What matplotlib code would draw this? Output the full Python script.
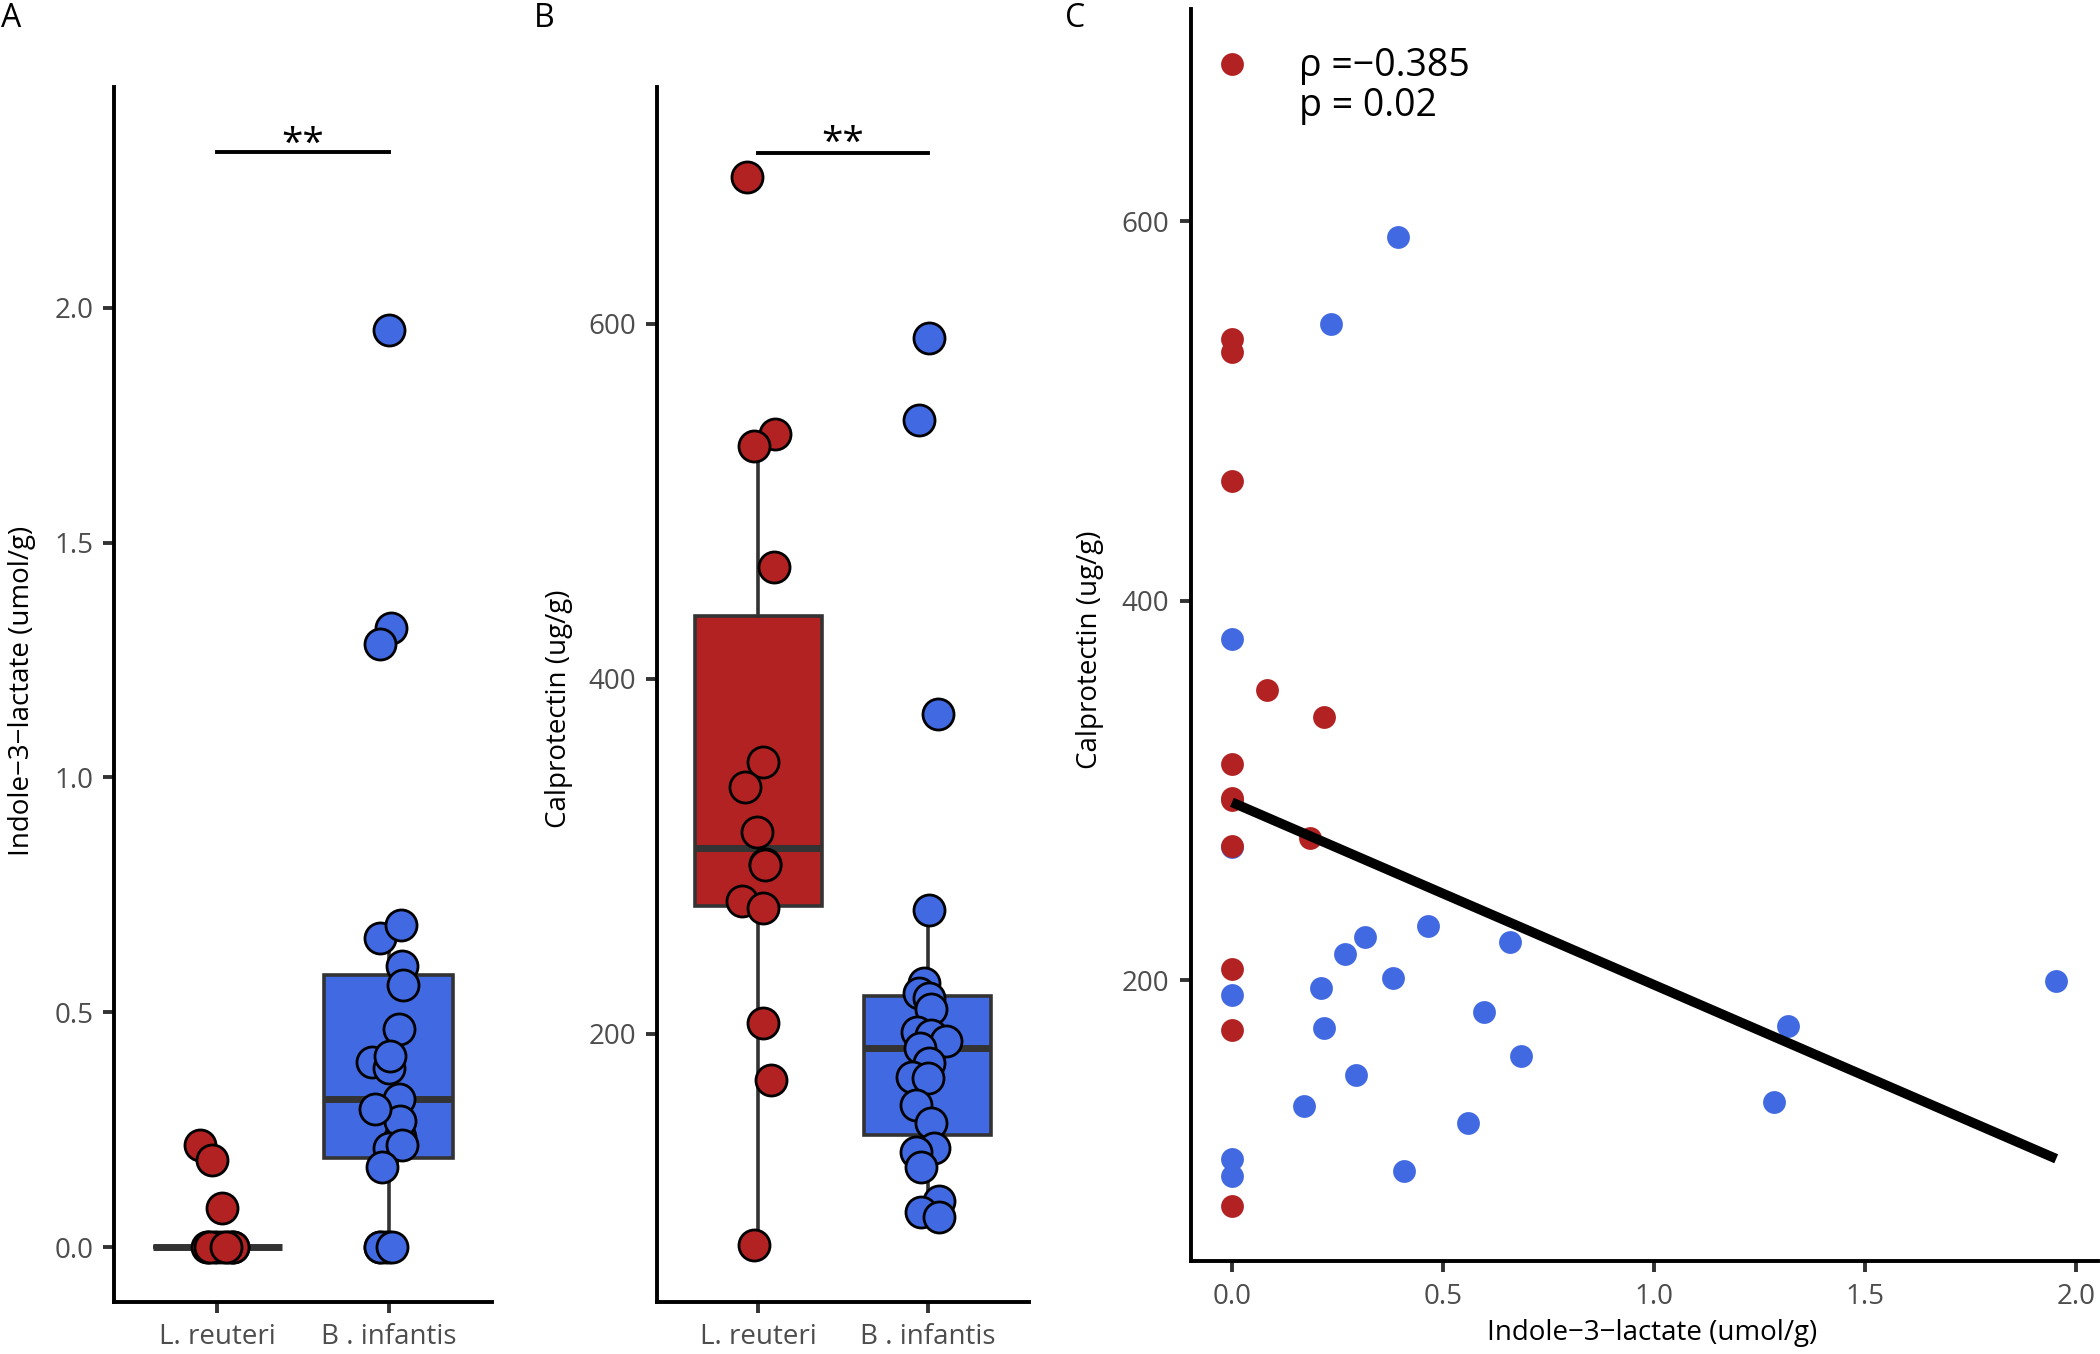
import matplotlib
matplotlib.use("Agg")
import matplotlib.pyplot as plt
import numpy as np

plt.rcParams["font.family"] = ["Open Sans", "DejaVu Sans"]

groups = ["L. reuteri", "B . infantis"]
red = "#B22222"
blue = "#4169E1"

# one entry per sample: indole-3-lactate (umol/g) and calprotectin (ug/g)
il_reuteri = [0, 0, 0, 0, 0.084, 0.218, 0, 0, 0, 0.186, 0, 0, 0, 0]
cal_reuteri = [683, 538, 531, 463, 353, 339, 314, 296, 295, 275, 271, 206, 174, 81]

il_infantis = [0.393, 0.234, 0, 0, 0.464, 0.315, 0.658, 0.268, 0.381, 1.953,
               0.210, 0, 0.598, 1.318, 0.218, 0.685, 0.295, 1.284, 0.171,
               0.559, 0, 0.407, 0]
cal_infantis = [592, 546, 380, 270, 228.5, 223, 220, 214, 201, 199.5,
                196, 192, 183.5, 176, 175, 160, 150, 136, 133.5,
                125, 106, 99.5, 97]

# horizontal jitter of the dots (category units)
jit_a_reuteri = [-0.05, 0.09, -0.02, 0.06, 0.026, -0.098, 0.0, 0.08, -0.06,
                 -0.03, 0.03, -0.04, 0.09, 0.05]
jit_a_infantis = [-0.1, 0.065, -0.05, -0.02, 0.06, 0.056, -0.054, 0.065, 0.0,
                  0.0, 0.0, 0.0, 0.075, 0.01, 0.075, 0.07, -0.083, -0.054,
                  -0.04, 0.08, -0.05, 0.006, 0.02]
jit_b_reuteri = [-0.07, 0.096, -0.028, 0.09, 0.025, -0.077, -0.01, 0.037,
                 0.037, -0.1, 0.025, 0.025, 0.073, -0.028]
jit_b_infantis = [0.006, -0.05, 0.06, 0.006, -0.02, -0.05, 0.01, 0.02, -0.06,
                  0.02, 0.11, -0.045, 0.006, -0.09, 0.0, -0.07, 0.02, 0.04,
                  -0.07, -0.04, 0.07, -0.04, 0.07]

rho_text = "ρ =−0.385"
p_text = "p = 0.02"
sig_text = "**"

W, H = 2100, 1354


def px_axes(left, top, right, bottom):
    return [left / W, 1 - bottom / H, (right - left) / W, (bottom - top) / H]


def style(ax, pad=6):
    ax.spines["top"].set_visible(False)
    ax.spines["right"].set_visible(False)
    for s in ["left", "bottom"]:
        ax.spines[s].set_linewidth(2.8)
        ax.spines[s].set_color("black")
    ax.tick_params(length=8, width=2.8, color="#333333", labelcolor="#4D4D4D",
                   labelsize=20, pad=pad)


def box_panel(ax, data_r, data_i, jit_r, jit_i):
    bp = ax.boxplot([data_r, data_i], positions=[1, 2], widths=0.75,
                    patch_artist=True, showfliers=False, whis=1.5,
                    medianprops=dict(color="#333333", linewidth=5,
                                     solid_capstyle="butt"),
                    whiskerprops=dict(color="#333333", linewidth=2.6),
                    capprops=dict(linewidth=0),
                    boxprops=dict(edgecolor="#333333", linewidth=2.6))
    for patch, c in zip(bp["boxes"], [red, blue]):
        patch.set_facecolor(c)
    ax.scatter(1 + np.array(jit_r), data_r, s=500, color=red,
               edgecolors="black", linewidths=2, zorder=3)
    ax.scatter(2 + np.array(jit_i), data_i, s=500, color=blue,
               edgecolors="black", linewidths=2, zorder=3)
    ax.set_xlim(0.4, 2.6)
    ax.set_xticks([1, 2])
    ax.set_xticklabels(groups)


def main():
    fig = plt.figure(figsize=(21, 13.54), dpi=100)

    # A
    ax = fig.add_axes(px_axes(114, 87, 492, 1302))
    box_panel(ax, il_reuteri, il_infantis, jit_a_reuteri, jit_a_infantis)
    ax.set_ylim(-0.117, 2.47)
    ax.set_yticks([0, 0.5, 1.0, 1.5, 2.0])
    ax.set_yticklabels(["0.0", "0.5", "1.0", "1.5", "2.0"])
    ax.plot([1, 2], [2.332, 2.332], color="black", lw=2.8, clip_on=False)
    ax.text(1.5, 2.306, sig_text, ha="center", va="bottom", fontsize=28)
    style(ax, pad=7)

    # B
    ax = fig.add_axes(px_axes(657, 87, 1029, 1302))
    box_panel(ax, cal_reuteri, cal_infantis, jit_b_reuteri, jit_b_infantis)
    ax.set_ylim(49, 733.5)
    ax.set_yticks([200, 400, 600])
    ax.plot([1, 2], [696.3, 696.3], color="black", lw=2.8, clip_on=False)
    ax.text(1.5, 691, sig_text, ha="center", va="bottom", fontsize=28)
    style(ax, pad=7)

    # C
    ax = fig.add_axes(px_axes(1191, 9, 2098, 1261))
    ax.scatter(il_infantis, cal_infantis, s=270, color=blue, linewidths=0,
               zorder=3)
    ax.scatter(il_reuteri, cal_reuteri, s=270, color=red, linewidths=0,
               zorder=3)
    x_all = np.array(il_reuteri + il_infantis)
    y_all = np.array(cal_reuteri + cal_infantis)
    slope, icpt = np.polyfit(x_all, y_all, 1)
    xs = np.array([x_all.min(), x_all.max()])
    ax.plot(xs, icpt + slope * xs, color="black", lw=7, zorder=4,
            solid_capstyle="butt")
    ax.text(0.16, 682, rho_text, fontsize=27, va="center", ha="left")
    ax.text(0.16, 661, p_text, fontsize=27, va="center", ha="left")
    ax.set_xlim(-0.097, 2.052)
    ax.set_ylim(52, 712)
    ax.set_xticks([0, 0.5, 1.0, 1.5, 2.0])
    ax.set_xticklabels(["0.0", "0.5", "1.0", "1.5", "2.0"])
    ax.set_yticks([200, 400, 600])
    style(ax, pad=8)

    # axis titles
    fig.text(22 / W, 1 - 691 / H, "Indole−3−lactate (umol/g)", rotation=90,
             ha="center", va="center", fontsize=20)
    fig.text(559 / W, 1 - 709 / H, "Calprotectin (ug/g)", rotation=90,
             ha="center", va="center", fontsize=20)
    fig.text(1090 / W, 1 - 650 / H, "Calprotectin (ug/g)", rotation=90,
             ha="center", va="center", fontsize=20)
    fig.text(1652 / W, 1 - 1333 / H, "Indole−3−lactate (umol/g)",
             ha="center", va="center", fontsize=20)

    # panel letters
    for x, letter in [(1, "A"), (534, "B"), (1065, "C")]:
        fig.text(x / W, 1 - 27 / H, letter, ha="left", va="baseline",
                 fontsize=23)

    fig.savefig("out.png", dpi=100)


if __name__ == "__main__":
    main()
